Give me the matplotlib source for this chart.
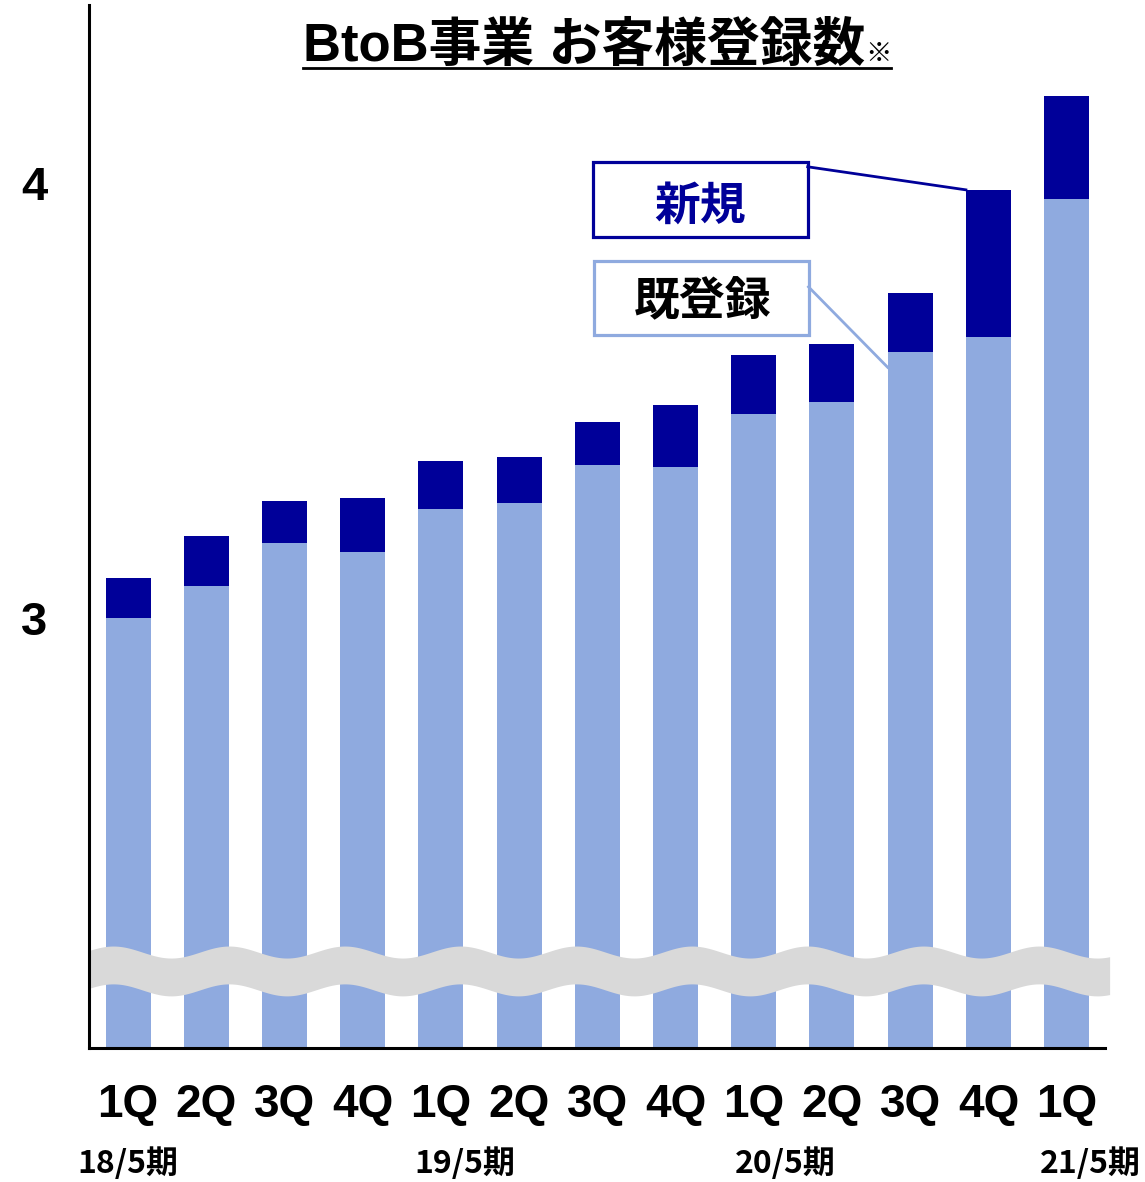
import numpy as np
import matplotlib
matplotlib.use('Agg')
import matplotlib.pyplot as plt
from matplotlib.patches import Rectangle
from matplotlib.lines import Line2D

# quarter labels and fiscal period labels
quarters = ['1Q', '2Q', '3Q', '4Q', '1Q', '2Q', '3Q', '4Q', '1Q', '2Q', '3Q', '4Q', '1Q']
periods = ['18/5期', '19/5期', '20/5期', '21/5期']
period_pos = [0.0, 4.3, 8.4, 12.3]

# registered customers (existing part and new part of each bar)
existing = [3.00, 3.074, 3.172, 3.152, 3.251, 3.264, 3.352, 3.347, 3.469, 3.497, 3.611, 3.646, 3.963]
new = [0.092, 0.115, 0.097, 0.124, 0.110, 0.106, 0.099, 0.143, 0.136, 0.133, 0.136, 0.338, 0.237]

dark = '#000099'
light = '#8FAADF'
gray = '#D9D9D9'

fig = plt.figure(figsize=(11.45, 11.82), dpi=100)
ax = fig.add_axes([0.0777, 0.1134, 0.8873, 0.8824])

x = np.arange(len(quarters))
total = np.array(existing) + np.array(new)
ax.bar(x, existing, width=0.575, color=light, zorder=2)
ax.bar(x, new, bottom=existing, width=0.575, color=dark, zorder=2)

ax.set_xlim(-0.5, 12.49)
ax.set_ylim(2.0115, 4.409)

# axis break band
xs = np.linspace(-0.5, 12.55, 600)
wave = 0.0138 * np.sin(2 * np.pi * (xs + 0.19) / 1.48 + np.pi / 2)
ax.fill_between(xs, 2.145 + wave, 2.232 + wave, color=gray, zorder=3,
                lw=0, clip_on=False)

for s in ['top', 'right']:
    ax.spines[s].set_visible(False)
ax.spines['left'].set_linewidth(2.2)
ax.spines['bottom'].set_linewidth(2.2)
ax.spines['left'].set_zorder(5)

ax.set_yticks([3, 4])
ax.set_yticklabels(['3', '4'], fontsize=34, fontweight='bold', family='Liberation Sans')
ax.tick_params(axis='y', length=0, pad=30)
ax.set_xticks([])

for xi, q in zip(x, quarters):
    ax.text(xi, -0.055, q, transform=ax.get_xaxis_transform(), ha='center', va='center',
            fontsize=33, fontweight='bold', family='Liberation Sans')
for xp, p in zip(period_pos, periods):
    ax.text(xp, -0.111, p, transform=ax.get_xaxis_transform(), ha='center', va='center',
            fontsize=23, fontweight='bold', family=['Noto Sans CJK JP'])

# legend boxes with connector lines
ax.add_patch(Rectangle((5.94, 3.876), 2.75, 0.172, fill=False, ec=dark, lw=2.3, zorder=6))
ax.text(7.31, 3.945, '新規', ha='center', va='center', color=dark, fontsize=33,
        fontweight='bold', family=['Noto Sans CJK JP'], zorder=6)
ax.add_patch(Rectangle((5.96, 3.651), 2.74, 0.170, fill=False, ec=light, lw=2.3, zorder=6))
ax.text(7.35, 3.725, '既登録', ha='center', va='center', color='black', fontsize=33,
        fontweight='bold', family=['Noto Sans CJK JP'], zorder=6)
ax.plot([8.69, 11 - 0.2875], [4.037, total[11]], color=dark, lw=2.0, zorder=6)
ax.plot([8.70, 10 - 0.2875], [3.761, existing[10] - 0.035], color=light, lw=2.0, zorder=6)

# title with small note mark and underline
fig.canvas.draw()
r = fig.canvas.get_renderer()
t1 = fig.text(0, 0.960, 'BtoB事業 お客様登録数', ha='left', va='center', fontsize=38,
              fontweight='bold', family=['Liberation Sans', 'Noto Sans CJK JP'])
t2 = fig.text(0, 0.955, '※', ha='left', va='center', fontsize=19,
              fontweight='bold', family=['Noto Sans CJK JP'])
w1 = t1.get_window_extent(r).width / fig.bbox.width
w2 = t2.get_window_extent(r).width / fig.bbox.width
x0 = 597 / 1145 - (w1 + w2) / 2
t1.set_x(x0)
t2.set_x(x0 + w1)
fig.add_artist(Line2D([x0, x0 + w1 + w2], [0.9425, 0.9425], color='black', lw=2.0,
                      transform=fig.transFigure))

fig.savefig('out.png', dpi=100)
